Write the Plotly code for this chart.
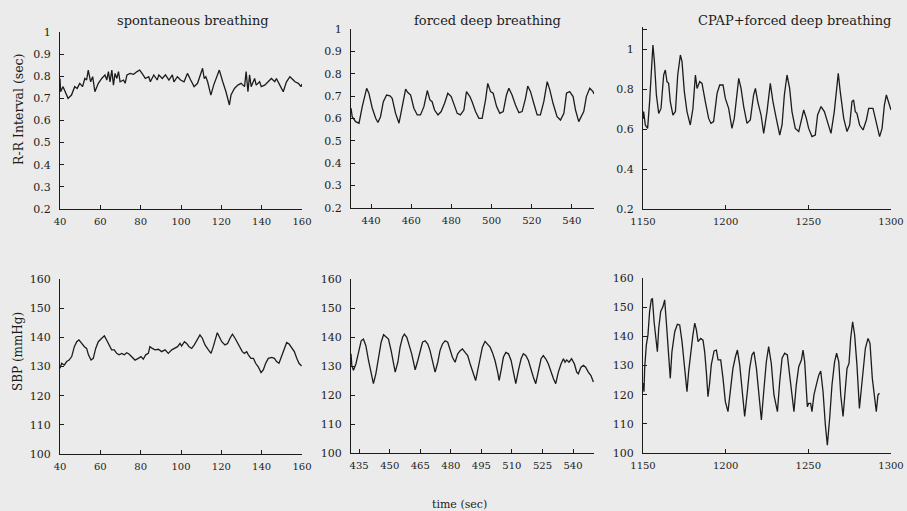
import plotly.graph_objects as go

# ---------------- data ----------------
t1 = [40, 40.3, 41.5, 44, 45.7, 47.3, 48.5, 49.8, 51.2, 52.3, 53.2, 54, 55.2, 56.2, 57.3, 59, 60.7, 62.3, 63.2, 64,
      64.8, 65.7, 66.5, 67.3, 68.2, 69, 69.8, 71.5, 72.3, 73.2, 74.8, 76.5, 78.2, 79.5, 80.7, 82.3, 84, 84.8, 86.5, 88.2,
      89, 90.7, 92.3, 94, 95.7, 96.5, 98.2, 99.8, 101.5, 103.2, 104.8, 106.5, 108.2, 109.8, 110.7, 111.5, 112.3, 113.2,
      114.8, 116.2, 117.3, 118.2, 119, 120.7, 122.3, 124, 124.8, 126.5, 128.2, 129.8, 131.5, 132.3, 133.2, 134, 134.8,
      136.5, 137.3, 139, 139.8, 141.5, 143.2, 144.8, 146.5, 147.3, 149, 150.7, 152.3, 154, 155.7, 156.5, 158.2, 159.5, 160]
rr_spont = [0.79, 0.73, 0.753, 0.70, 0.715, 0.753, 0.745, 0.768, 0.753, 0.79, 0.783, 0.828, 0.775, 0.798, 0.73, 0.768,
            0.79, 0.806, 0.783, 0.821, 0.775, 0.828, 0.76, 0.813, 0.79, 0.821, 0.775, 0.783, 0.768, 0.806, 0.813, 0.809,
            0.821, 0.828, 0.813, 0.79, 0.798, 0.775, 0.806, 0.783, 0.806, 0.79, 0.806, 0.783, 0.806, 0.775, 0.798, 0.783,
            0.775, 0.813, 0.783, 0.753, 0.768, 0.806, 0.836, 0.79, 0.798, 0.775, 0.715, 0.76, 0.79, 0.806, 0.828, 0.775,
            0.73, 0.67, 0.715, 0.745, 0.76, 0.768, 0.753, 0.821, 0.73, 0.806, 0.753, 0.79, 0.76, 0.775, 0.753, 0.76,
            0.775, 0.79, 0.775, 0.79, 0.76, 0.73, 0.775, 0.798, 0.783, 0.775, 0.768, 0.753, 0.765]

t2 = [430, 430.6, 432.3, 434, 435.6, 436.8, 437.8, 438.9, 440.6, 442.3, 443.4, 444.7, 446.1, 447.7, 449.4, 450.5,
      452.2, 453.9, 455.5, 457.2, 458.3, 459.7, 461.3, 463, 464.6, 466.3, 468, 469.3, 470.4, 471.6, 473.3, 474.9,
      476.6, 478.2, 479.9, 481.2, 482.9, 484.5, 486.2, 487.5, 489.2, 490.3, 492, 493.7, 495.3, 497, 498.1, 499.5,
      500.8, 502.5, 504.1, 505.8, 507.4, 508.6, 510.2, 511.9, 513.6, 515.2, 516.9, 518, 519.4, 521, 522.7, 524.3,
      526, 527.7, 529, 530.6, 532.6, 534.3, 536, 537.3, 538.9, 540.6, 541.8, 543.4, 544.6, 545.9, 547.2, 548.9,
      550.5, 551]
rr_forced = [0.646, 0.608, 0.586, 0.579, 0.653, 0.698, 0.735, 0.713, 0.646, 0.601, 0.582, 0.608, 0.675, 0.705, 0.701,
             0.69, 0.623, 0.579, 0.653, 0.731, 0.716, 0.705, 0.646, 0.616, 0.616, 0.653, 0.725, 0.683, 0.675, 0.638,
             0.616, 0.631, 0.668, 0.713, 0.698, 0.668, 0.623, 0.616, 0.638, 0.72, 0.698, 0.675, 0.631, 0.601, 0.601,
             0.683, 0.757, 0.72, 0.713, 0.653, 0.623, 0.631, 0.705, 0.735, 0.705, 0.66, 0.626, 0.631, 0.69, 0.745,
             0.72, 0.668, 0.616, 0.616, 0.675, 0.765, 0.728, 0.668, 0.608, 0.593, 0.623, 0.713, 0.72, 0.698, 0.638,
             0.586, 0.608, 0.631, 0.698, 0.735, 0.72, 0.71]

t3 = [1150, 1150.4, 1151.4, 1152.8, 1154, 1155.4, 1156, 1156.9, 1158.1, 1159.5, 1160.9, 1162.5, 1163.5, 1164.5,
      1165.5, 1166.5, 1168.1, 1169.6, 1171, 1172.6, 1173.6, 1175, 1176.6, 1178.6, 1180.2, 1181.7, 1182.7, 1184.3,
      1185.7, 1187.7, 1189.7, 1191.1, 1192.7, 1194.8, 1196.4, 1198.4, 1199.8, 1201.8, 1203.8, 1205.2, 1206.9,
      1207.9, 1209.3, 1210.9, 1212.9, 1214.9, 1216.9, 1218, 1219.4, 1221.4, 1223, 1225, 1227, 1228.6, 1230.6,
      1232.7, 1234.1, 1235.5, 1237.1, 1238.7, 1240.1, 1242.1, 1244.2, 1245.6, 1247.2, 1248.8, 1250.2, 1252.2,
      1254.2, 1255.6, 1257.7, 1259.7, 1261.7, 1263.7, 1265.7, 1267.3, 1268.1, 1269.3, 1271.4, 1273.4, 1275,
      1276.4, 1277.4, 1278.4, 1279.4, 1281, 1283.1, 1285.1, 1286.5, 1289.1, 1291.1, 1293.1, 1294.6, 1296, 1297.2,
      1298.6, 1300]
rr_cpap = [0.65, 0.687, 0.62, 0.603, 0.737, 0.97, 1.02, 0.937, 0.77, 0.678, 0.703, 0.87, 0.895, 0.837, 0.828, 0.737,
           0.67, 0.687, 0.87, 0.97, 0.937, 0.787, 0.687, 0.62, 0.703, 0.87, 0.803, 0.837, 0.828, 0.737, 0.653, 0.628,
           0.637, 0.778, 0.82, 0.82, 0.753, 0.703, 0.603, 0.653, 0.803, 0.853, 0.803, 0.712, 0.628, 0.645, 0.77,
           0.803, 0.737, 0.67, 0.578, 0.687, 0.828, 0.737, 0.653, 0.57, 0.62, 0.77, 0.87, 0.803, 0.687, 0.603, 0.587,
           0.637, 0.695, 0.653, 0.603, 0.562, 0.57, 0.67, 0.712, 0.687, 0.628, 0.578, 0.687, 0.837, 0.878, 0.787,
           0.653, 0.587, 0.62, 0.737, 0.745, 0.687, 0.678, 0.62, 0.595, 0.645, 0.703, 0.703, 0.628, 0.562, 0.603,
           0.72, 0.77, 0.737, 0.695]

t4 = [40, 40.8, 42.1, 43.3, 44.5, 45.8, 47.1, 48.3, 49.4, 50.7, 52.1, 53.2, 54.1, 55.4, 56.5, 57.7, 59, 60.7, 62,
      63.1, 64.3, 65.6, 66.9, 68.1, 69.3, 70.6, 71.9, 73.1, 74.2, 75.5, 77.2, 78.8, 80.2, 81.3, 82.5, 83.8, 84.6,
      85.8, 87.1, 88.8, 90.4, 92.1, 93.7, 95.4, 97, 98.3, 99.5, 100.3, 101.7, 102.8, 104, 105.3, 106.6, 107.8,
      109.4, 110.6, 111.9, 113.6, 114.9, 116, 117.2, 118, 119, 120.2, 121.8, 123.1, 124.3, 125.5, 126.8, 128.1,
      129.3, 130.4, 131.4, 132.6, 133.4, 134.7, 135.9, 137, 138.3, 139.7, 140.8, 142, 143.3, 145, 146.3, 147.4,
      148.6, 149.9, 151.2, 152.4, 153.6, 154.9, 156.2, 157.4, 158.5, 159.8]
sbp_spont = [129.4, 131.1, 130.5, 131.7, 132.2, 133.4, 136.8, 138.5, 139.1, 137.9, 136.8, 136.2, 134, 132.2, 132.8,
             136.2, 138.5, 139.7, 140.5, 139.1, 137.4, 135.7, 135.7, 134.5, 134, 134.5, 134, 134.7, 134.3, 133.4,
             132.2, 132.8, 133.4, 132.5, 134, 134.5, 136.8, 136.2, 135.7, 135.9, 135.1, 135.7, 134.5, 135.7, 136.2,
             136.8, 137.9, 137, 138.5, 137.9, 136.8, 136.2, 137.4, 139.1, 140.8, 139.7, 137.4, 135.7, 134.5, 136.8,
             140.2, 141.6, 140.2, 138.5, 137.4, 137.9, 139.7, 141.1, 139.7, 137.9, 136.2, 135.1, 134.5, 135.1, 134,
             132.8, 132.8, 131.1, 129.9, 127.9, 128.8, 131.1, 132.8, 133.1, 132.8, 131.7, 131.1, 133.4, 135.7, 138.2,
             137.7, 136.2, 135.1, 132.8, 131.1, 130.2]

t5 = [431, 431.4, 432.2, 433.4, 434.7, 436, 437.1, 438.3, 439.6, 440.9, 442, 443.2, 444.5, 445.8, 447, 448.1, 449.4,
      450.7, 451.8, 452.7, 454, 455.1, 456.3, 457.2, 458.4, 459.5, 460.8, 461.7, 462.5, 463.8, 464.9, 466.1, 467.4,
      468.7, 469.8, 471, 472.3, 473.6, 474.7, 475.9, 477.2, 478.5, 479.6, 480.8, 482.1, 483.4, 484.6, 485.7, 487,
      488.3, 489.5, 491.1, 492.2, 493.2, 494.4, 495.5, 496.8, 498.1, 499.3, 500.4, 501.7, 503, 503.7, 504.7, 505.8,
      507, 508.3, 509.6, 510.7, 511.9, 513.2, 514.5, 515.6, 516.8, 518.1, 519.4, 520.5, 521.7, 523, 524.3, 525.4,
      526.6, 527.9, 529.2, 530.4, 531.5, 532.8, 534.1, 535.3, 536.1, 536.9, 538, 539.3, 540.7, 541.8, 542.6, 543.9,
      545.1, 546.2, 547.5, 548.8, 550]
sbp_forced = [134.2, 130.2, 128.5, 130.7, 134.7, 138.7, 139.3, 137, 131.9, 127.3, 123.9, 127.3, 133, 138.2, 140.8,
              140.1, 139.3, 135.3, 130.7, 127.9, 131.3, 136.5, 139.9, 141, 139.9, 137.6, 134.2, 131.3, 128.7, 131.9,
              135.3, 138.2, 138.7, 137.6, 135.3, 131.9, 127.9, 131.3, 135.3, 137.6, 138.7, 138.2, 135.9, 133, 131.3,
              134.2, 135.3, 135.9, 134.7, 133.6, 130.7, 127.3, 125, 128.5, 133, 136.5, 138.5, 137.6, 136.5, 134.7,
              131.9, 127.9, 125, 128.5, 133, 134.7, 134.2, 131.9, 128.5, 123.9, 128.5, 132.5, 134.2, 133.6, 131.9,
              128.5, 126.2, 123.9, 128.5, 132.5, 133.6, 132.5, 130.7, 127.9, 125.6, 123.9, 127.9, 130.7, 132.5, 131.3,
              132.1, 131.3, 132.5, 130.7, 127.9, 127.3, 129.6, 130.2, 129.6, 127.9, 126.7, 124.5]

t6 = [1150, 1150.6, 1151, 1152, 1153, 1154, 1155, 1155.7, 1156.7, 1158.1, 1158.7, 1159.5, 1160.7, 1162.1, 1163.1,
      1164.1, 1165.5, 1166.5, 1167.5, 1169.2, 1170.8, 1172.2, 1173.6, 1175.2, 1176.6, 1177.6, 1179.2, 1180.2, 1181.3,
      1182.3, 1183.3, 1184.9, 1186.3, 1187.3, 1188.3, 1189.3, 1190.3, 1191.3, 1193, 1194.4, 1195.4, 1197, 1198.4,
      1199.8, 1201.4, 1203, 1204.4, 1205.9, 1207.1, 1208.5, 1209.9, 1211.5, 1213.1, 1214.5, 1215.9, 1217.1, 1218.6,
      1220, 1221.6, 1223.2, 1224.6, 1226, 1227.6, 1229.2, 1231.3, 1232.7, 1234.1, 1235.7, 1237.3, 1238.7, 1240.1,
      1241.3, 1242.7, 1244.2, 1245.8, 1246.8, 1247.8, 1248.8, 1249.4, 1250.2, 1251.4, 1252.2, 1253.4, 1254.8,
      1256.3, 1257.5, 1258.9, 1260.3, 1261.5, 1262.9, 1264.3, 1265.9, 1267.1, 1268.4, 1269.6, 1271, 1272, 1273.4,
      1274.6, 1275.6, 1276.8, 1278, 1279.4, 1280.9, 1281.7, 1283.1, 1284.5, 1286.1, 1287.3, 1288.7, 1290.1, 1291.1,
      1292.1, 1293]
sbp_cpap = [124, 121, 129, 137, 140.5, 148.5, 152.5, 153, 145, 135.9, 134.7, 142.7, 148.5, 150.2, 152.5, 145, 134.7,
            125.6, 134.7, 141.6, 144.1, 143.9, 138.2, 129, 121, 127.9, 137, 140.5, 144.5, 142.2, 138.2, 139.3, 138.7,
            134.7, 127.9, 119.3, 123.9, 130.2, 135, 135.3, 131.9, 131.9, 125.6, 117.6, 114.2, 123.3, 129, 133, 135.3,
            130.2, 121, 112.5, 121, 129, 133.6, 134.7, 129, 119.9, 111.3, 122.2, 131.3, 136.5, 130.7, 119.9, 114.2,
            124.5, 132.5, 134.2, 133.6, 126.7, 119.9, 114.2, 123.3, 129.6, 131.9, 135.3, 131.3, 122.2, 115.9, 117,
            117, 114.2, 119.9, 123.3, 126.7, 128.1, 121, 109.6, 102.7, 111.9, 123.3, 131.3, 134.2, 131.3, 119.9,
            112.5, 121, 129, 130.7, 139.3, 145, 140.5, 130.2, 115.3, 119.9, 129, 135.9, 139.3, 137.6, 125.6, 117.6,
            114.2, 119.9, 120.5]

titles = ["spontaneous breathing", "forced deep breathing", "CPAP+forced deep breathing"]
rr_ticks = [0.2, 0.3, 0.4, 0.5, 0.6, 0.7, 0.8, 0.9, 1.0]
rr_ticktext = ["0.2", "0.3", "0.4", "0.5", "0.6", "0.7", "0.8", "0.9", "1"]
rr_cpap_ticks = [0.2, 0.4, 0.6, 0.8, 1.0, 1.1]
rr_cpap_ticktext = ["0.2", "0.4", "0.6", "0.8", "1", ""]
sbp_ticks = [100, 110, 120, 130, 140, 150, 160]
x_spont_ticks = [40, 60, 80, 100, 120, 140, 160]
x_forced_rr_ticks = [440, 460, 480, 500, 520, 540]
x_forced_sbp_ticks = [435, 450, 465, 480, 495, 510, 525, 540]
x_cpap_ticks = [1150, 1200, 1250, 1300]

# ---------------- figure ----------------
W, H = 907, 511
INK = "#1c1c1c"
BG = "#ebebeb"
FONT = "DejaVu Serif"

def xd(a, b):
    return [a / W, b / W]

def yd(top, bottom):
    return [1 - bottom / H, 1 - top / H]

panels = [
    (t1, rr_spont, xd(60, 302), yd(32, 209), [40, 160], [0.2, 1.0], x_spont_ticks, rr_ticks, rr_ticktext),
    (t2, rr_forced, xd(351, 594), yd(29, 208), [430, 551], [0.2, 1.0], x_forced_rr_ticks, rr_ticks, rr_ticktext),
    (t3, rr_cpap, xd(643, 891), yd(27, 209), [1150, 1300], [0.2, 1.11], x_cpap_ticks, rr_cpap_ticks, rr_cpap_ticktext),
    (t4, sbp_spont, xd(60, 302), yd(279, 454), [40, 160], [100, 160], x_spont_ticks, sbp_ticks, [str(v) for v in sbp_ticks]),
    (t5, sbp_forced, xd(351, 594), yd(279, 453), [431, 550.3], [100, 160], x_forced_sbp_ticks, sbp_ticks, [str(v) for v in sbp_ticks]),
    (t6, sbp_cpap, xd(643, 891), yd(278, 453), [1150, 1300], [100, 160], x_cpap_ticks, sbp_ticks, [str(v) for v in sbp_ticks]),
]

fig = go.Figure()
layout = dict(
    width=W, height=H, margin=dict(l=0, r=0, t=0, b=0, pad=0, autoexpand=False),
    paper_bgcolor=BG, plot_bgcolor=BG, showlegend=False,
    font=dict(family=FONT, color=INK),
)

axis_common = dict(
    showline=True, linecolor=INK, linewidth=1.2, mirror=False,
    ticks="inside", ticklen=4, tickwidth=1.1, tickcolor=INK,
    showgrid=False, zeroline=False, automargin=False,
    fixedrange=True,
)

for i, (tx, vy, xdom, ydom, xr, yr, xt, ytv, ytt) in enumerate(panels, start=1):
    s = "" if i == 1 else str(i)
    fig.add_trace(go.Scatter(x=tx, y=vy, mode="lines",
                             line=dict(color=INK, width=1.3),
                             xaxis="x" + s, yaxis="y" + s, hoverinfo="skip"))
    layout["xaxis" + s] = dict(axis_common, domain=xdom, range=xr, tickvals=xt,
                               anchor="y" + s, ticklabelstandoff=3,
                               tickfont=dict(family=FONT, size=10, color=INK))
    layout["yaxis" + s] = dict(axis_common, domain=ydom, range=yr, tickvals=ytv,
                               ticktext=ytt, anchor="x" + s, ticklabelstandoff=6,
                               tickfont=dict(family=FONT, size=11, color=INK))

annotations = []
for title, cx in zip(titles, [193, 487, 794]):
    annotations.append(dict(text=title, x=cx / W, y=1 - 20 / H, xref="paper", yref="paper",
                            showarrow=False, xanchor="center", yanchor="middle",
                            font=dict(family=FONT, size=13, color=INK)))
annotations.append(dict(text="R-R Interval (sec)", x=18 / W, y=1 - 110 / H, xref="paper", yref="paper",
                        showarrow=False, textangle=-90, xanchor="center", yanchor="middle",
                        font=dict(family=FONT, size=12.5, color=INK)))
annotations.append(dict(text="SBP (mmHg)", x=18 / W, y=1 - 352 / H, xref="paper", yref="paper",
                        showarrow=False, textangle=-90, xanchor="center", yanchor="middle",
                        font=dict(family=FONT, size=12, color=INK)))
annotations.append(dict(text="time (sec)", x=459 / W, y=1 - 504 / H, xref="paper", yref="paper",
                        showarrow=False, xanchor="center", yanchor="middle",
                        font=dict(family=FONT, size=11, color=INK)))
layout["annotations"] = annotations

fig.update_layout(**layout)
fig.write_html("out.html")
